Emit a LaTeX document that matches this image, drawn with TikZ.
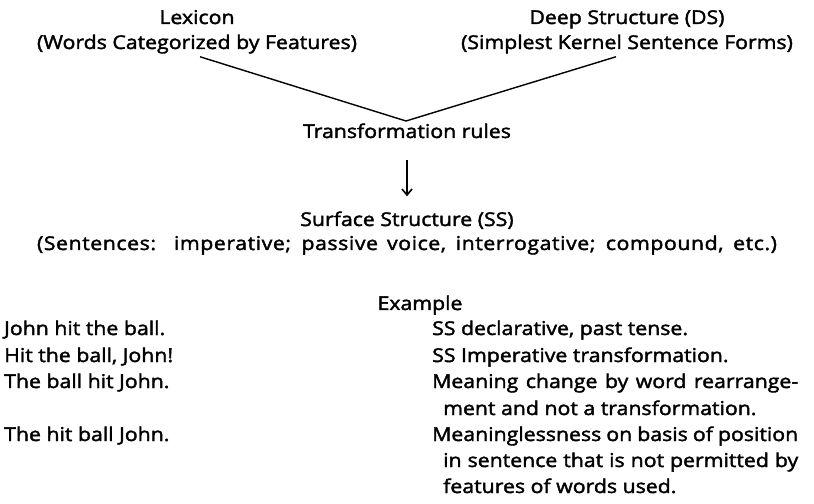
\documentclass[tikz,border=0pt]{standalone}
\usepackage{fontspec}
\setmainfont{Open Sans}[FakeStretch=1.12, FakeBold=2]
\usetikzlibrary{arrows.meta}
\begin{document}
\begin{tikzpicture}[x=1bp,y=-1bp,
  txt/.style={inner sep=0pt, anchor=base, font=\fontsize{19bp}{23bp}\selectfont},
  lcol/.style={txt, anchor=base west},
  conn/.style={line width=1.4bp, line join=miter},
  arr/.style={line width=1.6bp, -{Straight Barb[length=6bp,width=10bp,line width=1.6bp]}}]
\useasboundingbox (0,0) rectangle (814,504);
\node[txt] (lex1) at (197,24) {Lexicon};
\node[txt] (lex2) at (197,49) {(Words Categorized by Features)};
\node[txt] (ds1) at (627,24) {Deep Structure (DS)};
\node[txt] (ds2) at (627,49) {(Simplest Kernel Sentence Forms)};
\coordinate (v) at (406,121);
\node[txt] (tr) at (407,138) {Transformation rules};
\node[txt] (ss1) at (407,226) {Surface Structure (SS)};
\node[txt] (ss2) at (407,250) {\addfontfeature{LetterSpace=3}\makebox[740bp][s]{(Sentences:\ \ imperative; passive voice, interrogative; compound, etc.)}};
\draw[conn] ([xshift=3bp,yshift=-3bp]lex2.south) -- (v) -- ([xshift=-11bp,yshift=-3bp]ds2.south);
\draw[arr] ([yshift=-22bp]tr.base) -- ([yshift=15bp]ss1.north);
\node[txt] (ex) at (420,310) {Example};
\node[lcol] (a1) at (4,335) {John hit the ball.};
\node[lcol] (a2) at (4,362) {Hit the ball, John!};
\node[lcol] (a3) at (4,388) {The ball hit John.};
\node[lcol] (a4) at (4,441) {The hit ball John.};
\node[lcol] (b1) at (432,335) {SS declarative, past tense.};
\node[lcol] (b2) at (432,362) {SS Imperative transformation.};
\node[lcol] (b3) at (432,388) {\makebox[366bp][s]{Meaning change by word rearrange-}};
\node[lcol] (b4) at (443,415) {ment and not a transformation.};
\node[lcol] (b5) at (432,441) {\makebox[366bp][s]{Meaninglessness on basis of position}};
\node[lcol] (b6) at (443,467) {\makebox[355bp][s]{in sentence that is not permitted by}};
\node[lcol] (b7) at (443,493) {features of words used.};
\end{tikzpicture}
\end{document}
